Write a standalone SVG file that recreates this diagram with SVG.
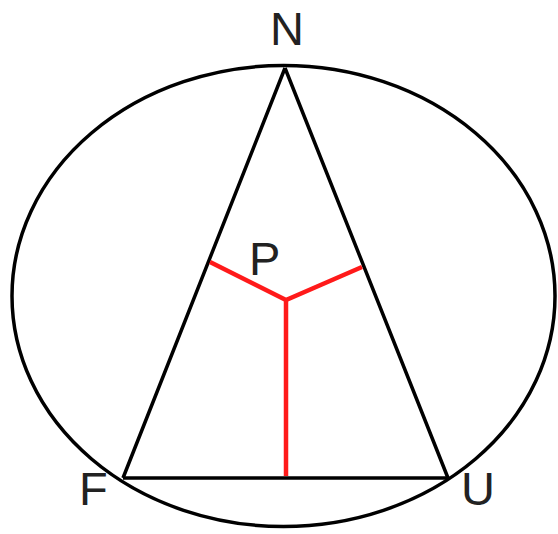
<svg xmlns="http://www.w3.org/2000/svg" width="558" height="534" viewBox="0 0 558 534">
<style>
.k{fill:none;stroke:#000;stroke-width:3.5;stroke-linejoin:round}
.r{fill:none;stroke:#ff1a1a;stroke-width:4.5}
.t{font-family:"Liberation Sans",Arial,sans-serif;font-size:47px;fill:#222}
</style>
<rect width="558" height="534" fill="#fff"/>
<g id="circle"><ellipse class="k" cx="283.5" cy="296" rx="271.5" ry="230.5"/></g>
<g id="connectors">
<path class="k" d="M285 68 L123 478 M285 68 L448 478"/>
<path class="k" d="M123 478 L448 478" stroke-width="5"/>
<path class="r" d="M210 262 L286 300 L362 267 M286 300 L286 476"/>
</g>
<g id="N"><text class="t" x="287" y="45" text-anchor="middle">N</text></g>
<g id="P"><text class="t" x="249" y="275">P</text></g>
<g id="F"><text class="t" x="79" y="505">F</text></g>
<g id="U"><text class="t" x="461" y="505">U</text></g>
</svg>
